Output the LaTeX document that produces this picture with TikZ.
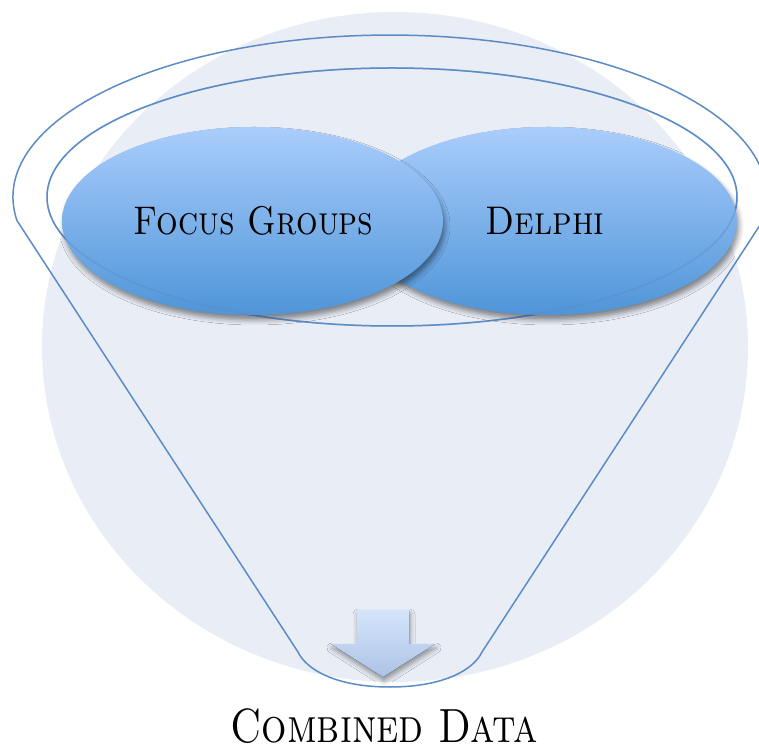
\documentclass[tikz,border=0pt]{standalone}
\usetikzlibrary{shapes.geometric,shadows.blur}
\definecolor{bgcirc}{HTML}{E9EDF5}
\definecolor{funnelline}{HTML}{5B8CC6}
\definecolor{elltop}{HTML}{AACDFC}
\definecolor{ellbot}{HTML}{4F95D8}
\definecolor{arrtop}{HTML}{D4E4FB}
\definecolor{arrbot}{HTML}{ADC3E6}
\tikzset{
  funnelstroke/.style={draw=funnelline, line width=1.5pt, line join=round},
  blueell/.style={ellipse, minimum width=381pt, minimum height=188pt, inner sep=0pt,
     top color=elltop, bottom color=ellbot, draw=none,
     blur shadow={shadow xshift=2pt, shadow yshift=-5pt, shadow blur radius=5pt, shadow opacity=45}},
  lbl/.style={font=\fontsize{40}{40}\selectfont, text=black, anchor=base, inner sep=0pt},
}
\begin{document}
\begin{tikzpicture}[x=1pt,y=1pt]
\useasboundingbox (0,0) rectangle (759,747);
\clip (0,0) rectangle (759,747);
% background circle
\fill[bgcirc] (395,400) ellipse[x radius=353, y radius=335];
% funnel
\def\funnelpath{(17,526.4) arc[start angle=188.36, end angle=-8.36, x radius=377, y radius=162]
   -- (482,95) .. controls (474,78) and (445,60) .. (390,60)
   .. controls (335,60) and (306,78) .. (298,95) -- cycle}
\draw[funnelstroke] \funnelpath;
\draw[funnelstroke] (392,550) ellipse[x radius=345, y radius=129];
% ellipses
\node[blueell] (de) at (546.5,526) {};
\node[blueell] (fg) at (252.5,526) {};
\node[lbl] (fgt) at (253.5,512) {\scalebox{0.85}[1]{\textsc{Focus Groups}}};
\node[lbl] (det) at (545,512) {\scalebox{0.88}[1]{\textsc{Delphi}}};
% faint funnel lines over the ellipses
\begin{scope}[opacity=0.45]
\draw[funnelstroke] (392,550) ellipse[x radius=345, y radius=129];
\end{scope}
% arrow
\fill[top color=arrtop, bottom color=arrbot,
  blur shadow={shadow xshift=1pt, shadow yshift=-4pt, shadow blur radius=5pt, shadow opacity=40}]
  (357,137) -- (409,137) -- (409,103) -- (435,103) -- (383,70) -- (331,103) -- (357,103) -- cycle;
\node[lbl, font=\fontsize{48}{48}\selectfont] (cd) at (384,4.5) {\scalebox{0.83}[1]{\textsc{Combined Data}}};
\end{tikzpicture}
\end{document}
